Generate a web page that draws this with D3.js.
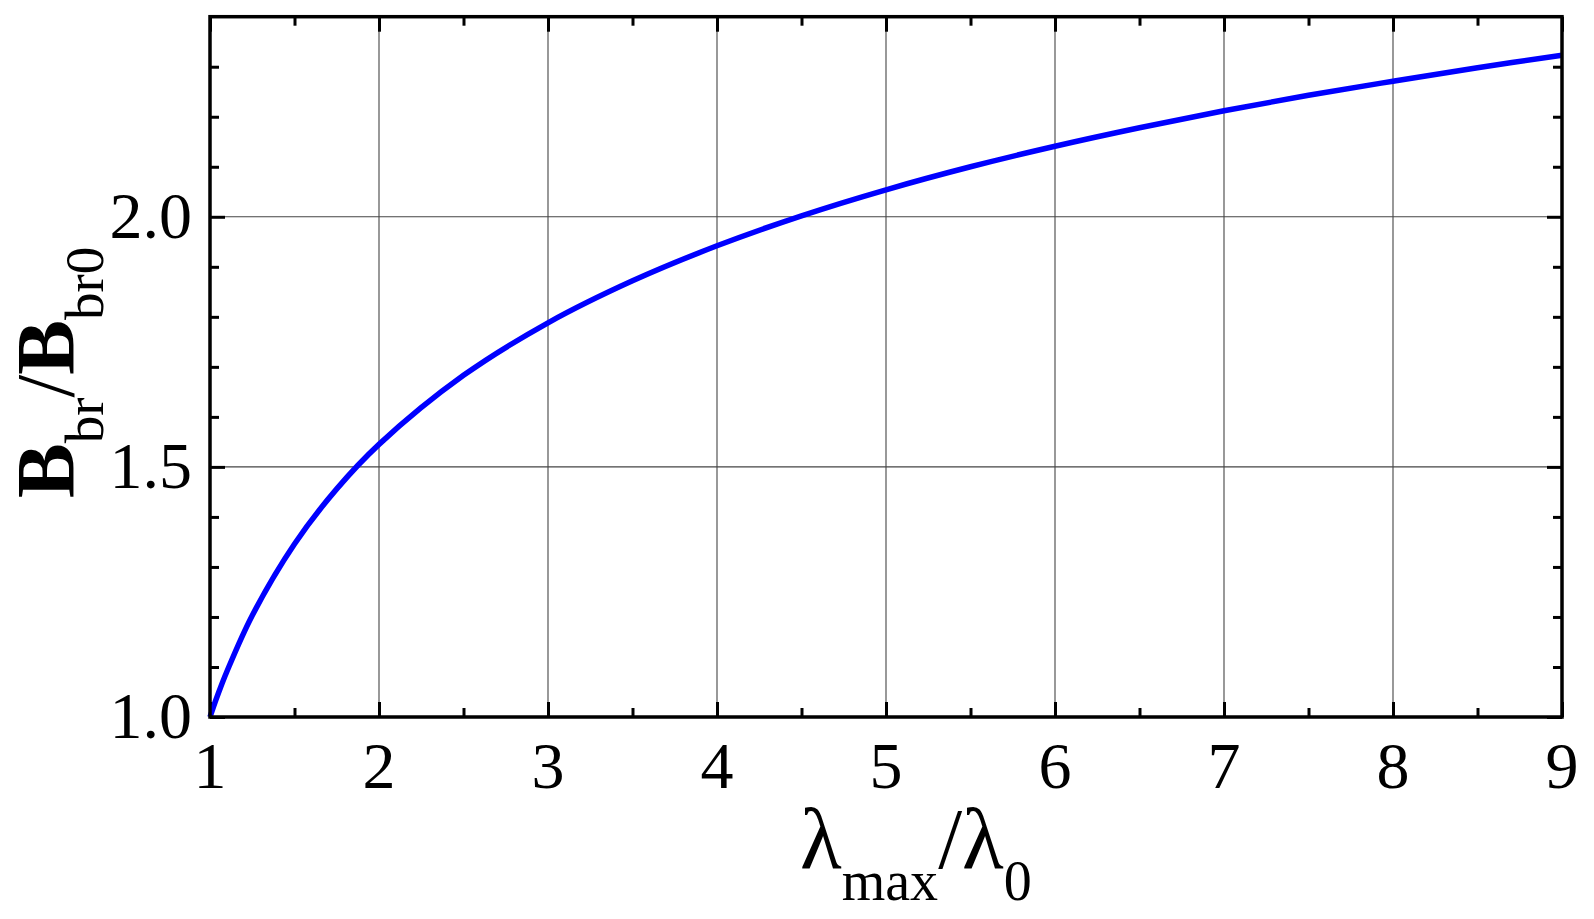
<!DOCTYPE html>
<html>
<head>
<meta charset="utf-8">
<script src="https://cdn.jsdelivr.net/npm/d3@7"></script>
<style>
  html, body { margin: 0; padding: 0; background: #fff; }
  svg { display: block; }
</style>
</head>
<body>
<svg id="chart" width="1594" height="919"></svg>
<script>
// ---- data ----
const lambdaRatio = [1, 1.02, 1.05, 1.1, 1.25, 1.5, 1.75, 2, 2.5, 3, 3.5, 4, 4.5, 5, 5.5, 6, 6.5, 7, 7.5, 8, 8.5, 9];
const bRatio      = [1, 1.020, 1.048, 1.091, 1.203, 1.346, 1.456, 1.545, 1.683, 1.788, 1.872, 1.942, 2.002, 2.054, 2.100, 2.141, 2.178, 2.212, 2.243, 2.271, 2.298, 2.323];
const xMajorTicks = [1, 2, 3, 4, 5, 6, 7, 8, 9];
const xMinorTicks = [1.5, 2.5, 3.5, 4.5, 5.5, 6.5, 7.5, 8.5];
const yMajorTicks = [1.0, 1.5, 2.0];
const yMinorTicks = [1.1, 1.2, 1.3, 1.4, 1.6, 1.7, 1.8, 1.9, 2.1, 2.2, 2.3];
const xGrid = [2, 3, 4, 5, 6, 7, 8];
const yGrid = [1.5, 2.0];

const svg = d3.select("#chart");
const m = { left: 210, top: 16.7, right: 1594 - 1562, bottom: 919 - 717 };
const W = 1594 - m.left - m.right, H = 919 - m.top - m.bottom;
const g = svg.append("g").attr("transform", `translate(${m.left},${m.top})`);

const x = d3.scaleLinear().domain([1, 9]).range([0, W]);
const y = d3.scaleLinear().domain([1, 2.4]).range([H, 0]);

const serif = "'Liberation Serif', 'Times New Roman', serif";

// grid
g.append("g").selectAll("line").data(xGrid).join("line")
  .attr("x1", d => x(d)).attr("x2", d => x(d)).attr("y1", 0).attr("y2", H)
  .attr("stroke", "#444").attr("stroke-width", 1.1);
g.append("g").selectAll("line").data(yGrid).join("line")
  .attr("y1", d => y(d)).attr("y2", d => y(d)).attr("x1", 0).attr("x2", W)
  .attr("stroke", "#444").attr("stroke-width", 1.1);

// axes (ticks inward)
function styleAxis(sel) {
  sel.select(".domain").remove();
  sel.selectAll(".tick line").attr("stroke", "#000").attr("stroke-width", 3);
  sel.selectAll("text").remove();
}
const major = 15, minor = 9;
g.append("g").attr("transform", `translate(0,${H})`)
  .call(d3.axisBottom(x).tickValues(xMajorTicks).tickSize(-major)).call(styleAxis);
g.append("g").attr("transform", `translate(0,${H})`)
  .call(d3.axisBottom(x).tickValues(xMinorTicks).tickSize(-minor)).call(styleAxis);
g.append("g")
  .call(d3.axisTop(x).tickValues(xMajorTicks).tickSize(-major)).call(styleAxis);
g.append("g")
  .call(d3.axisTop(x).tickValues(xMinorTicks).tickSize(-minor)).call(styleAxis);
g.append("g")
  .call(d3.axisLeft(y).tickValues(yMajorTicks).tickSize(-major)).call(styleAxis);
g.append("g")
  .call(d3.axisLeft(y).tickValues(yMinorTicks).tickSize(-minor)).call(styleAxis);
g.append("g").attr("transform", `translate(${W},0)`)
  .call(d3.axisRight(y).tickValues(yMajorTicks).tickSize(-major)).call(styleAxis);
g.append("g").attr("transform", `translate(${W},0)`)
  .call(d3.axisRight(y).tickValues(yMinorTicks).tickSize(-minor)).call(styleAxis);

// tick labels
g.append("g").selectAll("text").data(xMajorTicks).join("text")
  .attr("x", d => x(d)).attr("y", H + 71)
  .attr("text-anchor", "middle")
  .attr("font-family", serif).attr("font-size", 66)
  .text(d => d);
g.append("g").selectAll("text").data(yMajorTicks).join("text")
  .attr("x", -18).attr("y", d => y(d) + 21)
  .attr("text-anchor", "end")
  .attr("font-family", serif).attr("font-size", 66)
  .text(d => d.toFixed(1));

// curve
const pts = lambdaRatio.map((l, i) => [l, bRatio[i]]);
g.append("path").datum(pts)
  .attr("fill", "none").attr("stroke", "#0000ff").attr("stroke-width", 5.5)
  .attr("stroke-linejoin", "round")
  .attr("d", d3.line().x(d => x(d[0])).y(d => y(d[1])).curve(d3.curveCatmullRom.alpha(0.5)));

// frame
g.append("rect").attr("x", 0).attr("y", 0).attr("width", W).attr("height", H)
  .attr("fill", "none").attr("stroke", "#000").attr("stroke-width", 3.5);

// x title
const xt = svg.append("text").attr("x", 800).attr("y", 868)
  .attr("font-family", serif).attr("font-size", 86);
xt.append("tspan").text("λ");
xt.append("tspan").attr("font-size", 56).attr("dy", 32).text("max");
xt.append("tspan").attr("dy", -32).text("/");
xt.append("tspan").text("λ");
xt.append("tspan").attr("font-size", 56).attr("dy", 32).text("0");

// y title
const yt = svg.append("text")
  .attr("transform", "translate(73,498) rotate(-90)")
  .attr("x", 0).attr("y", 0)
  .attr("font-family", serif).attr("font-size", 82);
yt.append("tspan").attr("font-weight", "bold").text("B");
yt.append("tspan").attr("font-size", 55).attr("dy", 30).text("br");
yt.append("tspan").attr("dy", -30).text("/");
yt.append("tspan").attr("font-weight", "bold").text("B");
yt.append("tspan").attr("font-size", 55).attr("dy", 30).text("br0");
</script>
</body>
</html>
